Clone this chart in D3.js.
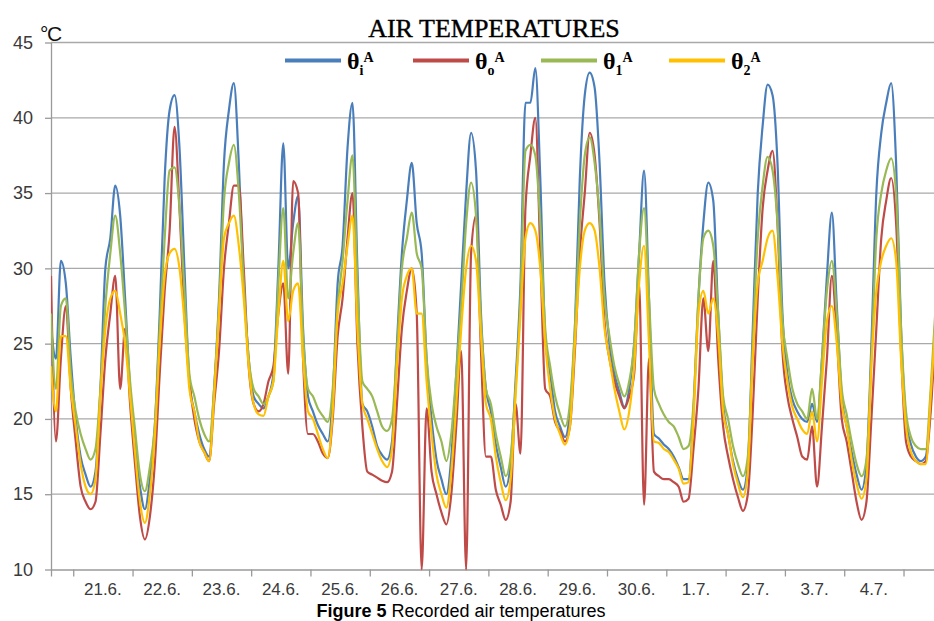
<!DOCTYPE html>
<html>
<head>
<meta charset="utf-8">
<script src="https://cdn.jsdelivr.net/npm/d3@7"></script>
<style>
  body { margin: 0; background: #fff; }
</style>
</head>
<body>
<div id="chart-area"></div>
<script>
// readings every 2 hours, first one 20.6. 15:00
const startTime = new Date(2013, 5, 20, 15);
const stepHours = 2;

// theta_i (indoor)
const theta_i = [
  26, 24, 30.5, 29, 24,
  20, 17.5, 16.3, 15.5, 16.5, 22, 30, 32, 35.5, 33.5, 28, 22,
  18.3, 15.5, 14, 16, 19.5, 27, 36, 40.5, 41.5, 38, 30, 22.5,
  20.5, 19, 18, 17.5, 22, 28, 37, 40.5, 42.3, 37, 29, 24,
  21.5, 21, 20.7, 21.5, 23, 30, 38.3, 30, 33, 34.8, 26, 21.5,
  20.5, 19.6, 19, 18.5, 21.5, 29, 31.5, 38, 41, 30, 21, 20.5,
  19.5, 18.2, 17.6, 17.3, 18.5, 25, 31, 34.5, 37, 33, 31, 24,
  20, 17.3, 16, 15, 17.5, 23, 29, 35, 39, 36.5, 27, 22,
  20.5, 18.3, 16.8, 15.5, 17, 22.5, 29, 41, 41, 43.3, 36, 25.5,
  23, 20.5, 19.5, 18.8, 20.5, 26, 36, 41.5, 43, 42, 37, 29,
  25, 23, 21.8, 20.8, 22, 25, 31, 36.5, 28, 19, 18.7, 18.3,
  18, 17.5, 16.8, 16, 16, 20.5, 28, 33, 35.7, 34.5, 27, 21,
  19, 17.2, 16, 15.3, 17, 26, 35, 39.5, 42.2, 41.5, 37, 27,
  23, 21.3, 20.5, 20, 19.8, 21, 19.8, 24, 29.5, 33.7, 27.5, 21.5,
  19.5, 17.8, 16.3, 15.3, 17, 25, 35, 39, 41, 42.3, 37, 26,
  20, 18.3, 17.5, 17.2, 17.5, 21, 27
];

// theta_o (outdoor)
const theta_o = [
  29.5, 18.5, 24, 27.5, 22,
  18.5, 15.5, 14.5, 14, 14.5, 19, 24, 27, 29.5, 22, 26, 21,
  17, 13.5, 12, 13.5, 17, 23, 28.5, 32.5, 39.4, 34, 27, 22.5,
  20, 18.5, 17.8, 17.2, 21, 24.5, 30, 33, 35.5, 35.5, 30, 23.5,
  21, 20.5, 21, 22.5, 23.5, 27, 29, 23, 35.8, 35, 24, 19,
  19, 18.5, 17.7, 17.4, 20, 25.5, 28, 32, 35, 25, 19.5, 16.5,
  16.3, 16.1, 15.9, 15.8, 16.5, 21, 26, 28.5, 30, 27, 10, 20.7,
  16.5, 15, 13.8, 13, 15, 19.5, 24.5, 10, 31, 33.5, 24.5, 17.5,
  17.5, 15.3, 14.3, 13.3, 14.5, 21, 17.7, 34, 37.5, 40, 31, 22,
  21.5, 19.8, 19.2, 18.5, 19.5, 24.5, 31, 35, 39, 37.5, 33, 26.5,
  24, 22.5, 21.5, 20.7, 21.5, 23, 29, 14.3, 24, 16.5, 16.2, 16,
  16, 15.8, 15.5, 14.5, 14.7, 18, 22, 28, 24.5, 30.5, 24, 19.5,
  17.5, 16, 14.8, 13.9, 15, 20.5, 28, 34, 36.5, 37.8, 33, 24.5,
  21.5, 20, 18.8, 17.5, 17.3, 19.5, 15.5, 19.5, 24, 29.5, 25.5, 20,
  18.5, 16.5, 14.5, 13.3, 14.5, 20, 26, 32, 34.5, 36, 33, 24.5,
  18.5, 17.5, 17.2, 17, 17.2, 20.5, 26
];

// theta_1
const theta_1 = [
  27, 22, 27.5, 28, 23,
  20.5, 19, 18, 17.3, 18, 22, 27.5, 31, 33.5, 31, 27, 22.5,
  19.3, 16.3, 15.2, 16.8, 19.5, 26, 32, 36.5, 36.7, 34, 28.5, 23,
  21.5, 20, 19, 18.5, 22, 27.5, 34.5, 37, 38.2, 35, 29, 24,
  22, 21.5, 21, 21.5, 22.5, 29, 34, 28, 31, 33, 25.5, 22,
  21.5, 20.7, 20.2, 19.8, 22, 27.5, 30.5, 34.5, 37.5, 29, 22.5, 22,
  21.5, 20.5, 19.5, 19.2, 20, 24.5, 30, 32, 33.7, 31, 30, 24,
  21, 19.5, 18.5, 17.2, 19, 23, 27.5, 33, 35.7, 33.5, 26.5, 22,
  21, 19, 17.5, 16.2, 17.5, 22, 28, 37.8, 38.2, 37.5, 33, 26,
  23.5, 21.5, 20.3, 19.5, 21, 26, 33, 37.5, 38.7, 37, 33.5, 28,
  25.5, 23.5, 22.3, 21.5, 22.5, 25, 31, 34, 28, 22, 21, 20.3,
  19.8, 19.5, 18.8, 18, 18.2, 21, 28, 32, 32.5, 31.5, 27, 21.5,
  20, 18.2, 17, 16.2, 17.5, 25, 32, 35.5, 37.4, 36.5, 33, 26.5,
  24, 22, 21, 20.5, 20, 22, 20, 24, 28.5, 30.5, 27, 22,
  20.3, 18.5, 17, 16.2, 17.3, 24, 32, 35, 36.5, 37.3, 35, 26,
  20.5, 18.8, 18.2, 18, 18, 22, 27.5
];

// theta_2
const theta_2 = [
  23.5, 20.5, 25.5, 25.5, 22,
  19.5, 17, 15.5, 15, 16, 21.5, 26, 28, 28.5, 27, 25, 21.5,
  17.8, 14.5, 13.1, 15, 18.8, 25, 29.5, 31, 31.3, 30, 26.5, 22,
  20.5, 18.5, 17.8, 17.2, 21.5, 27, 32, 33, 33.5, 31.5, 28, 23.5,
  21, 20.3, 20.2, 21.5, 22.5, 27, 30.5, 26.5, 28.5, 29, 24, 20.5,
  20, 19, 18, 17.4, 20.5, 27, 29, 31.5, 33.5, 26, 21, 20,
  19, 18, 17.2, 16.8, 18, 23.5, 28, 29.5, 30, 27, 27, 22.5,
  19, 16.3, 15, 14.1, 16.5, 21, 26, 30, 31.5, 30.5, 25.5, 21,
  20, 17.5, 15.8, 14.6, 16, 21.5, 27, 32, 33, 32.5, 30, 25,
  22, 20, 19, 18.3, 19.5, 25, 30, 32.5, 33, 32.5, 30, 26,
  24, 22, 20.5, 19.3, 20.5, 23.5, 29, 31.5, 25, 18.5, 18.4, 18,
  17.8, 17.3, 16.7, 15.7, 15.8, 20, 27, 28.5, 27, 28, 25.5, 20.5,
  19, 17, 15.7, 14.8, 16.5, 24, 29, 30.5, 32, 32.5, 29.5, 25,
  22.5, 20.8, 20, 19.3, 19, 20.5, 18.5, 22.5, 26.5, 27.5, 25, 21,
  19.5, 17.3, 15.7, 14.7, 16, 23.5, 28.5, 30.5, 31.5, 32, 30.5, 24,
  19.5, 17.8, 17.2, 17, 17, 21.5, 26.5
];

const dayLabels = ["21.6.", "22.6.", "23.6.", "24.6.", "25.6.", "26.6.", "27.6.",
                   "28.6.", "29.6.", "30.6.", "1.7.", "2.7.", "3.7.", "4.7."];
const yTicks = [10, 15, 20, 25, 30, 35, 40, 45];

const seriesKeys = ["i", "o", "1", "2"];
const seriesData = [theta_i, theta_o, theta_1, theta_2];
const colours = ["#4a7ebb", "#be4b48", "#98b954", "#ffc000"];

const width = 934, height = 621;

const svg = d3.select("#chart-area")
  .append("svg")
    .attr("width", width)
    .attr("height", height)
    .style("display", "block");

svg.append("rect").attr("width", width).attr("height", height).attr("fill", "#fff");

const times = theta_i.map((d, i) => d3.timeHour.offset(startTime, i * stepHours));

const x = d3.scaleTime()
  .domain([startTime, new Date(2013, 6, 5, 12, 20)])
  .range([51, 934]);

const y = d3.scaleLinear()
  .domain([10, 45])
  .range([569.5, 42.5]);

// grid
svg.append("g")
  .selectAll("line")
  .data(yTicks.slice(1))
  .join("line")
    .attr("x1", 51).attr("x2", 934)
    .attr("y1", d => y(d)).attr("y2", d => y(d))
    .attr("stroke", "#a9a9a9")
    .attr("stroke-width", 1.3);

// Y axis
const yAxis = svg.append("g")
  .attr("transform", "translate(51,0)")
  .call(d3.axisLeft(y).tickValues(yTicks).tickSize(6).tickSizeOuter(0).tickPadding(12));
yAxis.select(".domain").attr("stroke", "#9a9a9a").attr("stroke-width", 1.3);
yAxis.selectAll(".tick line").attr("stroke", "#9a9a9a").attr("stroke-width", 1.3);
yAxis.selectAll("text")
  .attr("font-family", "Liberation Sans, Arial, sans-serif")
  .attr("font-size", 18)
  .attr("fill", "#3a3a3a");

svg.append("text")
  .attr("x", 40).attr("y", 41)
  .attr("font-family", "Liberation Sans, Arial, sans-serif")
  .attr("font-size", 21)
  .attr("letter-spacing", -1.5)
  .attr("fill", "#111")
  .text("°C");

// X axis, ticks at day boundaries
const dayStarts = d3.timeDay.range(new Date(2013, 5, 21), new Date(2013, 6, 5, 1));
const xAxis = svg.append("g")
  .attr("transform", `translate(0,${y(10)})`)
  .call(d3.axisBottom(x).tickValues([startTime].concat(dayStarts)).tickSize(7).tickSizeOuter(0).tickFormat(""));
xAxis.select(".domain").attr("stroke", "#9a9a9a").attr("stroke-width", 1.3);
xAxis.selectAll(".tick line").attr("stroke", "#9a9a9a").attr("stroke-width", 1.3);

svg.append("g")
  .selectAll("text")
  .data(dayLabels)
  .join("text")
    .attr("x", (d, i) => x(d3.timeHour.offset(dayStarts[i], 12)))
    .attr("y", 595)
    .attr("text-anchor", "middle")
    .attr("font-family", "Liberation Sans, Arial, sans-serif")
    .attr("font-size", 17)
    .attr("fill", "#3a3a3a")
    .text(d => d);

// lines
svg.append("clipPath").attr("id", "plot-clip")
  .append("rect").attr("x", 51).attr("y", 30).attr("width", 883).attr("height", 541);

const line = d3.line()
  .x((d, i) => x(times[i]))
  .y(d => y(d))
  .curve(d3.curveMonotoneX);

svg.append("g")
  .attr("clip-path", "url(#plot-clip)")
  .selectAll("path")
  .data(seriesData)
  .join("path")
    .attr("d", line)
    .attr("fill", "none")
    .attr("stroke", (d, i) => colours[i])
    .attr("stroke-width", 2.2)
    .attr("stroke-linejoin", "round");

// title
svg.append("text")
  .attr("x", 494).attr("y", 36.5)
  .attr("text-anchor", "middle")
  .attr("font-family", "Liberation Serif, Times New Roman, serif")
  .attr("font-size", 26)
  .attr("fill", "#000")
  .attr("stroke", "#000")
  .attr("stroke-width", 0.4)
  .text("AIR TEMPERATURES");

// legend
const legend = svg.append("g");
seriesKeys.forEach((k, i) => {
  const lx = 285 + i * 128;
  legend.append("line")
    .attr("x1", lx).attr("x2", lx + 56)
    .attr("y1", 60.5).attr("y2", 60.5)
    .attr("stroke", colours[i])
    .attr("stroke-width", 4);
  const t = legend.append("text")
    .attr("x", lx + 62).attr("y", 69)
    .attr("font-family", "Liberation Serif, Times New Roman, serif")
    .attr("font-weight", "bold")
    .attr("fill", "#000");
  t.append("tspan").attr("font-size", 24).text("θ");
  t.append("tspan").attr("font-size", 14).attr("dy", 6).text(k);
  t.append("tspan").attr("font-size", 14).attr("dy", -13).text("A");
});

// caption
const cap = svg.append("text")
  .attr("x", 461).attr("y", 617)
  .attr("text-anchor", "middle")
  .attr("font-family", "Liberation Sans Narrow, Liberation Sans, Arial, sans-serif")
  .attr("font-size", 18)
  .attr("fill", "#000");
cap.append("tspan").attr("font-weight", "bold").text("Figure 5");
cap.append("tspan").text(" Recorded air temperatures");
</script>
</body>
</html>
